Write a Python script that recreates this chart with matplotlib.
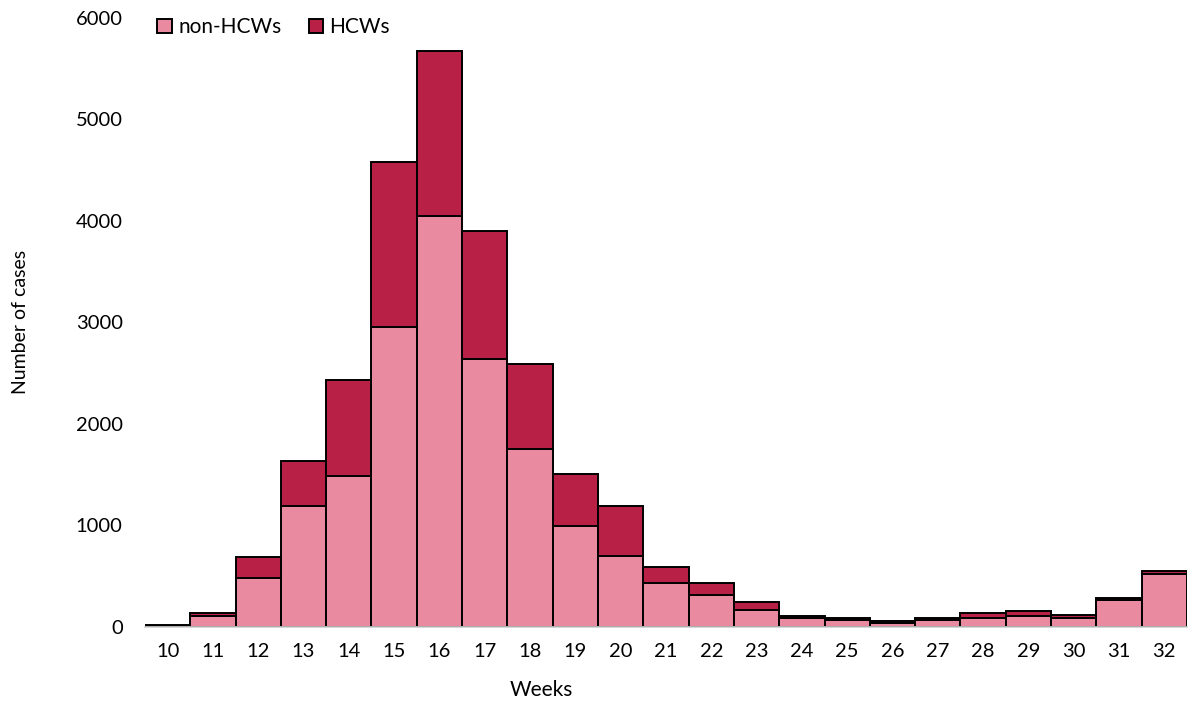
import matplotlib.pyplot as plt
from matplotlib.patches import Patch

# weekly case counts
weeks = list(range(10, 33))
non_hcw = [8, 100, 475, 1190, 1485, 2955, 4045, 2635, 1755, 995, 695, 430,
           315, 160, 80, 65, 35, 60, 80, 105, 85, 260, 520]
hcw = [7, 30, 210, 443, 950, 1630, 1628, 1262, 830, 505, 493, 155,
       110, 80, 28, 23, 15, 25, 50, 45, 33, 20, 25]
yticks = [0, 1000, 2000, 3000, 4000, 5000, 6000]

PINK = "#EA8AA0"
DARK = "#B92046"

plt.rcParams['font.family'] = ['Lato', 'DejaVu Sans']

fig = plt.figure(figsize=(11.92, 7.06), dpi=100)
ax = fig.add_axes([0.1216, 0.1126, 0.8742, 0.8619])

ax.bar(weeks, non_hcw, width=1.0, color=PINK, edgecolor="black", linewidth=1.4)
ax.bar(weeks, hcw, width=1.0, bottom=non_hcw, color=DARK, edgecolor="black", linewidth=1.4)

ax.set_xlim(9.5, 32.5)
ax.set_ylim(0, 6000)
ax.set_xticks(weeks)
ax.set_yticks(yticks)
ax.tick_params(axis="both", length=0, labelsize=14.5)
ax.tick_params(axis="y", pad=16)
ax.tick_params(axis="x", pad=12)

for side in ["top", "right", "left"]:
    ax.spines[side].set_visible(False)
ax.spines["bottom"].set_color("#d0d0d0")
ax.spines["bottom"].set_linewidth(1.2)

fig.text(0.454, 0.008, "Weeks", fontsize=15, ha="center", va="bottom")
fig.text(0.017, 0.544, "Number of cases", fontsize=14, rotation=90,
         ha="center", va="center")

handles = [Patch(facecolor=PINK, edgecolor="black", linewidth=1.4, label="non-HCWs"),
           Patch(facecolor=DARK, edgecolor="black", linewidth=1.4, label="HCWs")]
ax.legend(handles=handles, loc="upper left", bbox_to_anchor=(0.0, 1.022), ncol=2,
          frameon=False, fontsize=15, handlelength=0.7, handleheight=0.7,
          handletextpad=0.3, columnspacing=1.3, borderaxespad=0.2)

fig.savefig("out.png", dpi=100)
